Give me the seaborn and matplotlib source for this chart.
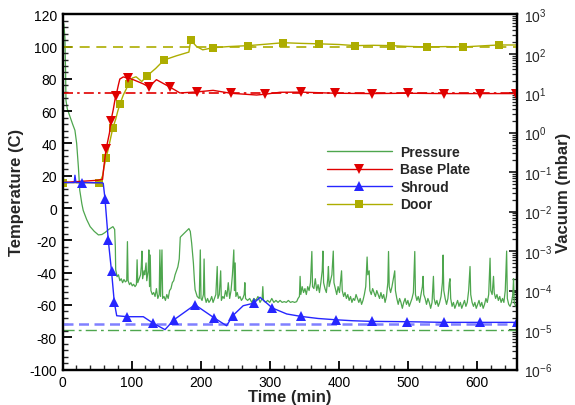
import numpy as np
import pandas as pd
import matplotlib
matplotlib.use("Agg")
import matplotlib.pyplot as plt
from matplotlib.lines import Line2D
from matplotlib.ticker import MultipleLocator, LogLocator, NullFormatter, FixedLocator
import seaborn as sns

# ---------------- data ----------------
DOOR_TIME = [0, 53, 55, 58, 60, 63, 66, 70, 73, 77, 80, 83, 88, 96, 101, 106.5, 114.7, 122.8,
             135, 147, 165, 183, 185.6, 194, 203, 218, 240, 269, 295, 319.7, 345, 371.8, 400,
             424, 450, 476, 500, 528, 555, 580, 605, 632, 660]
DOOR_TEMP = [15.8, 15.6, 17, 20, 25, 31.2, 36, 44, 49.8, 55, 60, 64.2, 70, 77, 80.5, 81.3, 78.4, 82,
             86.5, 91.7, 94.3, 96.6, 104, 100.1, 98, 99.3, 100, 100.6, 101.5, 102.4, 102, 101.7, 101.3,
             100.6, 100.8, 100.6, 100.1, 99.8, 100, 99.8, 100.4, 101, 101]
DOOR_MARKS = [0, 1, 5, 8, 11, 13, 17, 19, 22, 25, 27, 29, 31, 33, 35, 37, 39, 41]

BASE_TIME = [0, 51, 58, 60, 63, 68, 70, 73.5, 76, 77.5, 81, 83, 88, 95.5, 102.5, 117, 125, 136,
             156, 170, 194, 218, 243.5, 281, 293, 315, 345, 395, 448, 500, 552, 604.5, 657]
BASE_TEMP = [15.8, 17.2, 17.8, 26, 36.3, 46.5, 53.8, 61, 67.2, 69.6, 76.4, 79.9, 81.2, 80.5, 79.5,
             76.9, 75, 79.5, 74.8, 71.3, 71.9, 72.9, 71.1, 70, 70.5, 71.7, 71.8, 71.1, 70.9, 71.1,
             70.9, 70.9, 70.9]
BASE_MARKS = [4, 6, 9, 13, 16, 18, 20, 22, 24, 26, 27, 28, 29, 30, 31, 32]

SHROUD_TIME = [0, 17, 18, 19.5, 28, 58, 59, 61.5, 66.3, 71, 75, 78.5, 94, 117, 131.5, 148.4, 161.4,
               191.8, 219.8, 237.6, 246.4, 261.6, 277, 286, 303.8, 324.6, 345, 370, 395.5, 420,
               447.7, 498.8, 552, 605, 657.6]
SHROUD_TEMP = [15.8, 15.8, 20.3, 15.8, 15.8, 15.6, 15.3, 5.8, -20, -39.3, -58.4, -66.7, -67.3, -67.3,
               -71.4, -75.3, -69.2, -59.9, -68.1, -72.9, -66.7, -60.5, -58.9, -55.3, -61.9, -65.6,
               -67.1, -68.4, -69.2, -69.8, -70.2, -70.4, -70.8, -70.8, -70.8]
SHROUD_MARKS = [4, 7, 8, 9, 10, 12, 14, 16, 17, 18, 20, 22, 24, 26, 28, 30, 31, 32, 33, 34]

PRES_TIME = [0, 2, 3.5, 4.5, 5, 7, 11, 15, 18, 20.5, 23, 25, 28, 30, 35, 40, 46, 52, 57, 61.5, 67, 73,
             75.5, 76.5, 77, 79,
             81, 83, 85, 87, 89, 91, 93, 94, 95, 97, 99, 101, 103, 105, 107, 108, 109, 111, 113, 114,
             115, 116, 118, 119, 121, 122, 124, 125, 126, 127, 128, 130, 132, 134, 136, 138, 140, 141,
             142, 144, 145, 147, 149, 151, 153, 155, 157, 159, 161, 163, 165, 167, 169, 170.5, 172,
             176, 180, 183, 185, 187, 189.5, 191, 192, 195, 198, 199.5, 200.5, 202, 204, 205, 206,
             208, 210, 212, 214, 216, 218, 220, 222, 224, 225, 227, 229, 230, 232, 234, 236, 238,
             240, 242, 244, 246, 248, 249, 250, 251, 253, 255, 257, 259, 261, 263, 264, 265, 268,
             271, 274, 277, 280, 283, 286, 289, 290, 291, 294, 297, 300, 303, 306, 309, 312, 315,
             318, 321, 324, 327, 330, 333, 336, 339, 341, 343, 344, 345, 347, 349, 351, 353, 355,
             357, 359, 361, 362, 364, 366, 368, 370, 372, 374, 376, 377, 378, 380, 382, 384, 385,
             386, 388, 390, 392, 393, 395, 397, 399, 401, 403, 404, 405, 407, 409, 411, 413, 415,
             417, 419, 421, 423, 425, 427, 429, 431, 433, 435, 437, 439, 441, 442, 444, 445, 447,
             449, 451, 453, 455, 457, 459, 461, 463, 465, 467, 469, 471, 472, 473, 475, 477, 479,
             481, 482, 484, 486, 488, 490, 492, 494, 496, 498, 500, 502, 504, 506, 508, 510, 511,
             513, 515, 517, 519, 521, 522, 523, 525, 527, 529, 531, 533, 535, 537, 538, 540, 542,
             544, 546, 548, 550, 551, 552, 554, 556, 558, 560, 561, 562, 564, 566, 568, 570, 572,
             574, 576, 578, 580, 582, 584, 586, 588, 590, 591, 593, 595, 597, 599, 601, 603, 605,
             607, 609, 611, 613, 615, 617, 619, 620, 622, 624, 625, 627, 629, 631, 633, 635, 637,
             639, 641, 643, 644, 646, 648, 650, 652, 653, 654, 656, 658]
PRES_LOG10 = [2.85, 2.75, 2.4, 1.5, 0.82, 0.6, 0.40, 0.2, 0.06, -0.27, -0.87, -1.46, -1.8, -1.97,
              -2.2, -2.38, -2.5, -2.59, -2.58, -2.53, -2.45, -2.38, -2.45, -2.9, -3.47, -3.65,
              -3.6, -3.75, -3.7, -3.8, -3.72, -3.78, -3.75, -2.76, -3.75, -3.85, -3.8, -3.88, -3.84,
              -3.9, -3.85, -3.22, -3.8, -3.7, -3.6, -3.4, -3.0, -3.7, -3.5, -3.6, -3.3, -3.75, -3.5,
              -2.97, -3.9, -3.1, -4.0, -4.1, -4.05, -4.15, -3.95, -4.2, -4.1, -2.97, -4.15, -2.97,
              -4.2, -4.15, -4.25, -4.1, -4.2, -4.0, -3.95, -3.8, -3.75, -3.6, -3.5, -3.4, -3.2,
              -2.65, -2.62, -2.55, -2.48, -2.43, -2.5, -2.8, -3.3, -3.75, -3.98, -4.15, -4.2, -2.97,
              -4.2, -4.25, -4.1, -3.2, -4.15, -4.3, -4.2, -4.3, -4.25, -4.15, -4.3, -4.2, -4.1,
              -3.39, -4.2, -4.1, -3.5, -4.25, -4.15, -4.2, -4.0, -4.15, -3.8, -4.2, -4.0, -3.6,
              -2.97, -4.0, -3.3, -4.15, -4.05, -4.2, -4.15, -4.25, -4.2, -4.1, -3.8, -4.2, -4.25,
              -4.2, -4.3, -4.2, -4.25, -4.15, -4.3, -4.2, -3.9, -4.25, -4.3, -4.25, -4.3, -4.2,
              -4.3, -4.25, -4.3, -4.25, -4.3, -4.28, -4.3, -4.25, -4.3, -4.28, -4.3, -4.28, -4.2,
              -4.15, -3.64, -4.1, -3.9, -4.05, -3.95, -4.1, -3.9, -4.0, -3.8, -3.01, -3.9, -3.95,
              -3.7, -4.0, -3.85, -4.05, -3.8, -3.5, -3.0, -3.8, -3.95, -4.05, -3.7, -3.39, -3.9,
              -3.75, -3.6, -3.0, -3.8, -3.95, -4.1, -3.9, -4.05, -3.7, -3.5, -4.0, -4.15, -4.05,
              -4.2, -4.1, -4.25, -4.15, -4.3, -4.2, -4.25, -4.1, -4.2, -4.3, -4.2, -4.35, -4.25,
              -4.1, -3.9, -3.15, -3.6, -3.5, -4.0, -4.1, -3.95, -4.05, -4.15, -4.0, -4.1, -4.2,
              -4.05, -4.2, -4.1, -4.3, -4.15, -3.8, -3.01, -3.9, -4.05, -3.9, -3.7, -3.5, -4.0,
              -4.2, -4.35, -4.2, -4.3, -4.45, -4.3, -4.2, -4.35, -4.25, -4.4, -4.3, -4.2, -4.05,
              -3.01, -4.1, -4.25, -4.15, -4.3, -4.1, -3.9, -3.64, -4.1, -4.2, -4.35, -4.2, -4.3,
              -4.45, -4.3, -3.64, -4.2, -4.35, -4.25, -4.4, -4.3, -4.15, -3.8, -3.1, -4.0, -4.2,
              -4.35, -4.2, -3.8, -3.7, -4.2, -4.4, -4.3, -4.45, -4.35, -4.25, -4.4, -4.3, -4.45,
              -4.35, -4.25, -4.4, -4.3, -4.0, -3.39, -4.1, -4.3, -4.4, -4.3, -4.45, -4.35, -4.25,
              -4.4, -4.3, -4.45, -4.35, -4.2, -4.3, -4.1, -3.18, -4.0, -4.1, -3.64, -4.05, -4.2,
              -4.1, -4.25, -4.15, -4.3, -4.2, -4.3, -4.0, -3.0, -4.2, -4.35, -4.4, -4.3, -4.1,
              -3.7, -4.3, -4.4, -4.35]

REF_DOOR = 100
REF_BASE = 71
REF_SHROUD = -72
REF_PRES = 1e-5

SERIES_LABELS = ["Pressure", "Base Plate", "Shroud", "Door"]
X_LIMITS = (0, 658)
T_LIMITS = (-100, 120)
P_LIMITS = (1e-6, 1e3)
P_DECADES = [1e-6, 1e-5, 1e-4, 1e-3, 1e-2, 1e-1, 1e0, 1e1, 1e2, 1e3]

# ---------------- style ----------------
sns.set_style("ticks")
plt.rcParams['font.family'] = ['Liberation Sans', 'DejaVu Sans']
plt.rcParams['axes.unicode_minus'] = False
plt.rcParams['mathtext.fontset'] = 'custom'
plt.rcParams['mathtext.rm'] = 'Liberation Sans'

C_DOOR = "#adad00"
C_BASE = "#e00000"
C_SHROUD = "#2626ff"
C_PRES = "#4ea64e"

fig = plt.figure(figsize=(5.75, 4.06), dpi=100)
ax = fig.add_axes([62.5 / 575, (406 - 370.5) / 406, (517 - 62.5) / 575, (370.5 - 15.3) / 406])
ax2 = ax.twinx()
ax2.set_yscale('log')
ax2.set_ylim(*P_LIMITS)

door = pd.DataFrame({"t": DOOR_TIME, "T": DOOR_TEMP})
base = pd.DataFrame({"t": BASE_TIME, "T": BASE_TEMP})
shroud = pd.DataFrame({"t": SHROUD_TIME, "T": SHROUD_TEMP})
pres = pd.DataFrame({"t": PRES_TIME, "p": 10.0 ** np.array(PRES_LOG10)})

# reference lines
ax.axhline(REF_DOOR, color=C_DOOR, lw=1.2, dashes=(6, 4), zorder=1)
ax.axhline(REF_BASE, color=C_BASE, lw=1.2, dashes=(6, 2.5, 1.5, 2.5), zorder=1)
ax.axhline(REF_SHROUD, color="#8080ff", lw=1.8, dashes=(4, 2.2), zorder=1)
ax2.axhline(REF_PRES, color=C_PRES, lw=1.0, dashes=(8, 3, 2, 3), zorder=1)

common = dict(estimator=None, sort=False, errorbar=None, legend=False)
sns.lineplot(data=pres, x="t", y="p", ax=ax2, color=C_PRES, lw=0.9, **common)
sns.lineplot(data=door, x="t", y="T", ax=ax, color=C_DOOR, lw=1.0, marker='s', markersize=6,
             markevery=DOOR_MARKS, markeredgewidth=0, **common)
sns.lineplot(data=base, x="t", y="T", ax=ax, color=C_BASE, lw=1.0, marker='v', markersize=7,
             markevery=BASE_MARKS, markeredgewidth=0, **common)
sns.lineplot(data=shroud, x="t", y="T", ax=ax, color=C_SHROUD, lw=1.0, marker='^', markersize=7,
             markevery=SHROUD_MARKS, markeredgewidth=0, **common)

ax.set_zorder(2)
ax.patch.set_visible(False)
ax2.set_zorder(1)

ax.set_xlim(*X_LIMITS)
ax.set_ylim(*T_LIMITS)
ax2.set_xlim(*X_LIMITS)

ax.xaxis.set_major_locator(MultipleLocator(100))
ax.xaxis.set_minor_locator(MultipleLocator(20))
ax.yaxis.set_major_locator(MultipleLocator(20))
ax.yaxis.set_minor_locator(MultipleLocator(4))
ax2.yaxis.set_major_locator(FixedLocator(P_DECADES))
ax2.yaxis.set_minor_locator(LogLocator(base=10, subs=np.arange(2, 10), numticks=20))
ax2.yaxis.set_minor_formatter(NullFormatter())
ax2.set_ylim(*P_LIMITS)

for a in (ax, ax2):
    for s in a.spines.values():
        s.set_linewidth(1.6)
        s.set_color("black")
        s.set_visible(True)

ax.tick_params(axis='both', which='major', direction='in', length=6.5, width=1.3,
               labelsize=10, pad=4, top=False, right=False, colors='black')
ax.tick_params(axis='both', which='minor', direction='in', length=3.5, width=1.0,
               top=False, right=False)
ax2.tick_params(axis='y', which='major', direction='in', length=6, width=1.3, labelsize=10, pad=5)
ax2.tick_params(axis='y', which='minor', direction='in', length=3.5, width=0.9)

ax.set_xlabel("Time (min)", fontsize=12, fontweight='bold', labelpad=0)
ax.set_ylabel("Temperature (C)", fontsize=12, fontweight='bold', labelpad=4)
ax2.set_ylabel("Vacuum (mbar)", fontsize=12, fontweight='bold', labelpad=3)
ax2.set_xlabel("")

handles = [
    Line2D([], [], color=C_PRES, lw=1.0),
    Line2D([], [], color=C_BASE, lw=1.0, marker='v', markersize=7, markeredgewidth=0),
    Line2D([], [], color=C_SHROUD, lw=1.0, marker='^', markersize=7, markeredgewidth=0),
    Line2D([], [], color=C_DOOR, lw=1.0, marker='s', markersize=6, markeredgewidth=0),
]
leg = ax.legend(handles=handles, labels=SERIES_LABELS, loc='upper left',
                bbox_to_anchor=(326.7 / 575, 1 - 146 / 406), bbox_transform=fig.transFigure,
                frameon=False, borderpad=0, borderaxespad=0, handlelength=4.7,
                handletextpad=0.6, labelspacing=0.25, numpoints=1,
                prop={'weight': 'bold', 'size': 10})

fig.savefig("out.png", dpi=100)
